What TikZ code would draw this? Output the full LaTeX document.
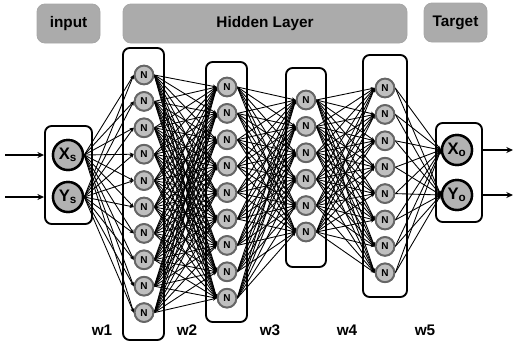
\documentclass[tikz,border=0pt]{standalone}
\usepackage{fontspec}
\setmainfont{Liberation Sans}
\usetikzlibrary{arrows.meta}
\begin{document}
\begin{tikzpicture}[x=0.75pt,y=-0.75pt,
  header/.style={draw=black!35, fill=black!33, rounded corners=6pt, line width=0.6pt,
    inner sep=0pt, minimum height=29.25pt, font=\fontsize{11.5}{11.5}\selectfont\bfseries},
  layerbox/.style={draw=black, fill=white, rounded corners=5pt, line width=1.4pt, inner sep=0pt},
  neuron/.style={circle, draw=black!60, fill=black!25, line width=1.4pt, inner sep=0pt,
    minimum size=14pt, font=\fontsize{7.5}{7.5}\selectfont\bfseries},
  io/.style={circle, draw=black, fill=black!30, line width=1.8pt, inner sep=0pt,
    minimum size=22.5pt, font=\fontsize{12.5}{12.5}\selectfont\bfseries},
  link/.style={line width=0.65pt, -{Stealth[length=3pt,width=2.6pt]}},
  flow/.style={line width=1.3pt, -{Stealth[length=5pt,width=4.5pt]}},
  wlabel/.style={font=\fontsize{11.5}{11.5}\selectfont\bfseries}
]
\useasboundingbox (0,0) rectangle (516,343);

% headers
\node[header, minimum width=47.25pt] (hin) at (68.5,23.5) {input};
\node[header, minimum width=213pt] (hhid) at (265,23.5) {Hidden Layer};
\node[header, minimum width=47.25pt] (hout) at (455.5,22.5) {Target};

% frames around the layers
\node[layerbox, minimum width=35.25pt, minimum height=73.5pt] (inbox) at (68.5,175) {};
\node[layerbox, minimum width=30.75pt, minimum height=219pt] (box1) at (143.5,194) {};
\node[layerbox, minimum width=30.75pt, minimum height=195pt] (box2) at (226.5,192) {};
\node[layerbox, minimum width=30pt, minimum height=149.25pt] (box3) at (306,167.5) {};
\node[layerbox, minimum width=33pt, minimum height=181.5pt] (box4) at (385,176) {};
\node[layerbox, minimum width=34.5pt, minimum height=74.25pt] (outbox) at (459,172.5) {};

% input and target units
\node[io] (xs) at (68,155) {X\textsubscript{s}};
\node[io] (ys) at (68,197) {Y\textsubscript{s}};
\node[io] (xo) at (457,150) {X\textsubscript{o}};
\node[io] (yo) at (457,195) {Y\textsubscript{o}};

% hidden units: layer name / x / first y / count
\foreach \L/\x/\y/\n in {a/144/75/10, b/227/87/9, c/306/100/6, d/385/88/8}{
  \foreach \i in {1,...,\n}{
    \node[neuron] (\L\i) at (\x,{\y+(\i-1)*26.4}) {N};
  }
}

% weighted connections
\foreach \s in {xs,ys}{
  \foreach \t in {1,...,10}{ \draw[link] (\s.east) -- (a\t.west); }
}
\foreach \s in {1,...,10}{
  \foreach \t in {1,...,9}{ \draw[link] (a\s.east) -- (b\t.west); }
}
\foreach \s in {1,...,9}{
  \foreach \t in {1,...,6}{ \draw[link] (b\s.east) -- (c\t.west); }
}
\foreach \s in {1,...,6}{
  \foreach \t in {1,...,8}{ \draw[link] (c\s.east) -- (d\t.west); }
}
\foreach \s in {1,...,8}{
  \foreach \t in {xo,yo}{ \draw[link] (d\s.east) -- (\t.west); }
}

% redraw units on top of the connections
\foreach \L/\x/\y/\n in {a/144/75/10, b/227/87/9, c/306/100/6, d/385/88/8}{
  \foreach \i in {1,...,\n}{
    \node[neuron] at (\x,{\y+(\i-1)*26.4}) {N};
  }
}
\node[io] at (xs) {X\textsubscript{s}};
\node[io] at (ys) {Y\textsubscript{s}};
\node[io] at (xo) {X\textsubscript{o}};
\node[io] at (yo) {Y\textsubscript{o}};

% external inputs and outputs
\coordinate (inxs) at (5,155);
\coordinate (inys) at (5,197);
\coordinate (outxo) at (513,150);
\coordinate (outyo) at (513,195);
\draw[flow] (inxs) -- (inxs -| inbox.west);
\draw[flow] (inys) -- (inys -| inbox.west);
\draw[flow] (outxo -| outbox.east) -- (outxo);
\draw[flow] (outyo -| outbox.east) -- (outyo);

% weight labels
\node[wlabel] (w1) at (102,330) {w1};
\node[wlabel] (w2) at (187,330) {w2};
\node[wlabel] (w3) at (270,330) {w3};
\node[wlabel] (w4) at (347,330) {w4};
\node[wlabel] (w5) at (425,330) {w5};
\end{tikzpicture}
\end{document}
